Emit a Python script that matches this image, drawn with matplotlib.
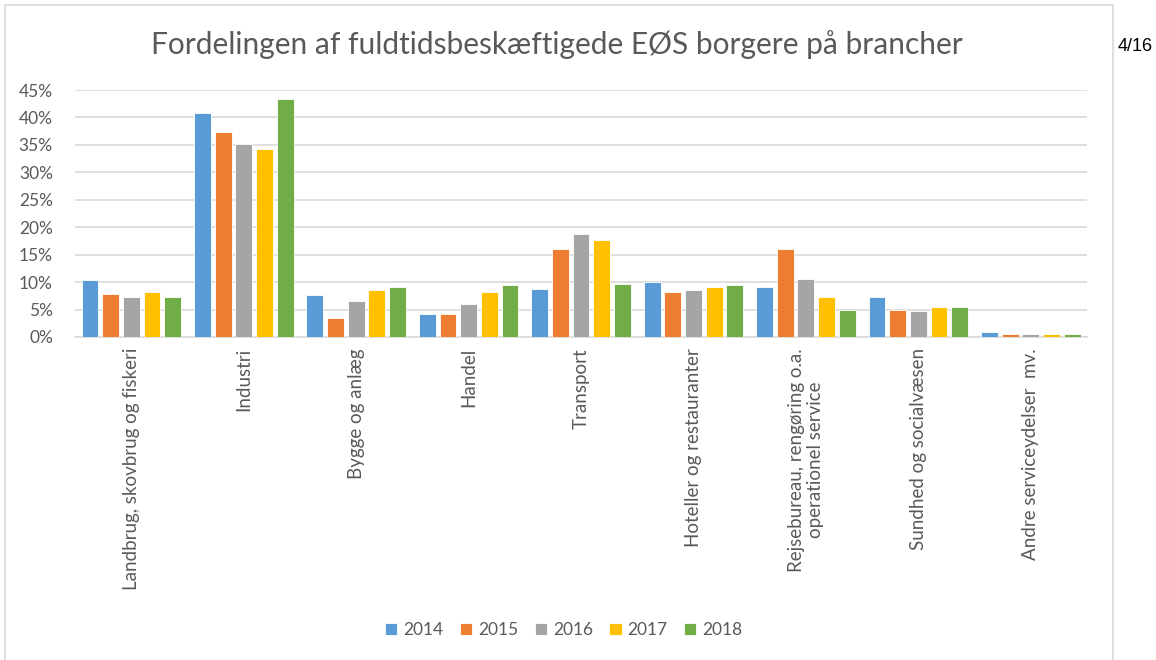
import matplotlib.pyplot as plt
import numpy as np
from matplotlib.patches import Rectangle

# ── data ───────────────────────────────────────────────────────────────────────
categories = [
    "Landbrug, skovbrug og fiskeri",
    "Industri",
    "Bygge og anlæg",
    "Handel",
    "Transport",
    "Hoteller og restauranter",
    "Rejsebureau, rengøring o.a.\noperationel service",
    "Sundhed og socialvæsen",
    "Andre serviceydelser  mv.",
]
years = ["2014", "2015", "2016", "2017", "2018"]
v2014 = [10.3, 40.8, 7.6, 4.1, 8.8, 10.1, 9.1, 7.3, 0.9]
v2015 = [7.8, 37.3, 3.5, 4.1, 16.0, 8.2, 16.0, 5.0, 0.55]
v2016 = [7.3, 35.1, 6.6, 6.0, 18.8, 8.5, 10.6, 4.7, 0.55]
v2017 = [8.2, 34.2, 8.5, 8.2, 17.7, 9.1, 7.3, 5.4, 0.55]
v2018 = [7.3, 43.3, 9.1, 9.4, 9.7, 9.4, 5.0, 5.4, 0.55]
series = [v2014, v2015, v2016, v2017, v2018]
colors = ["#5B9BD5", "#ED7D31", "#A5A5A5", "#FFC000", "#70AD47"]

TXT = "#595959"
plt.rcParams["font.family"] = ["Lato", "DejaVu Sans"]

fig = plt.figure(figsize=(11.56, 6.6), dpi=100)
ax = fig.add_axes([0.065, 0.4894, 0.8753, 0.3742])

x = np.arange(len(categories))
slot = 0.184
width = 0.15
for i, (vals, yr, c) in enumerate(zip(series, years, colors)):
    ax.bar(x + (i - 2) * slot, np.array(vals) / 100, width, color=c,
           edgecolor="white", linewidth=0.6, label=yr, zorder=3)

ax.set_xlim(-0.5, len(categories) - 0.5)
ax.set_ylim(0, 0.45)
ticks = np.arange(0, 0.451, 0.05)
ax.set_yticks(ticks)
ax.set_yticklabels([f"{int(round(t * 100))}%" for t in ticks])
ax.grid(axis="y", color="#D9D9D9", linewidth=1.2, zorder=0)
for s in ["top", "right", "left"]:
    ax.spines[s].set_visible(False)
ax.spines["bottom"].set_color("#D9D9D9")
ax.spines["bottom"].set_linewidth(1.2)
ax.tick_params(axis="y", length=0, labelsize=12.5, labelcolor=TXT, pad=16)
ax.tick_params(axis="x", length=0, labelsize=13.5, labelcolor=TXT, pad=8)
ax.set_xticks(x)
ax.set_xticklabels(categories, rotation=90, ha="center", va="top",
                   multialignment="center")

fig.text(0.482, 0.932, "Fordelingen af fuldtidsbeskæftigede EØS borgere på brancher",
         ha="center", va="center", fontsize=21.5, color=TXT)
fig.text(0.967, 0.929, "4/16", ha="left", va="center", fontsize=13,
         color="black", family="Liberation Sans")

ax.legend(loc="center", bbox_to_anchor=(0.483, -1.185), ncol=5, frameon=False,
          fontsize=12.5, labelcolor=TXT, handlelength=0.7, handleheight=0.7,
          handletextpad=0.35, columnspacing=0.95)

fig.patches.append(Rectangle((0.0045, -0.01), 0.958, 1.0025, transform=fig.transFigure,
                             fill=False, edgecolor="#D9D9D9", linewidth=1.2))

fig.savefig("out.png", dpi=100)
